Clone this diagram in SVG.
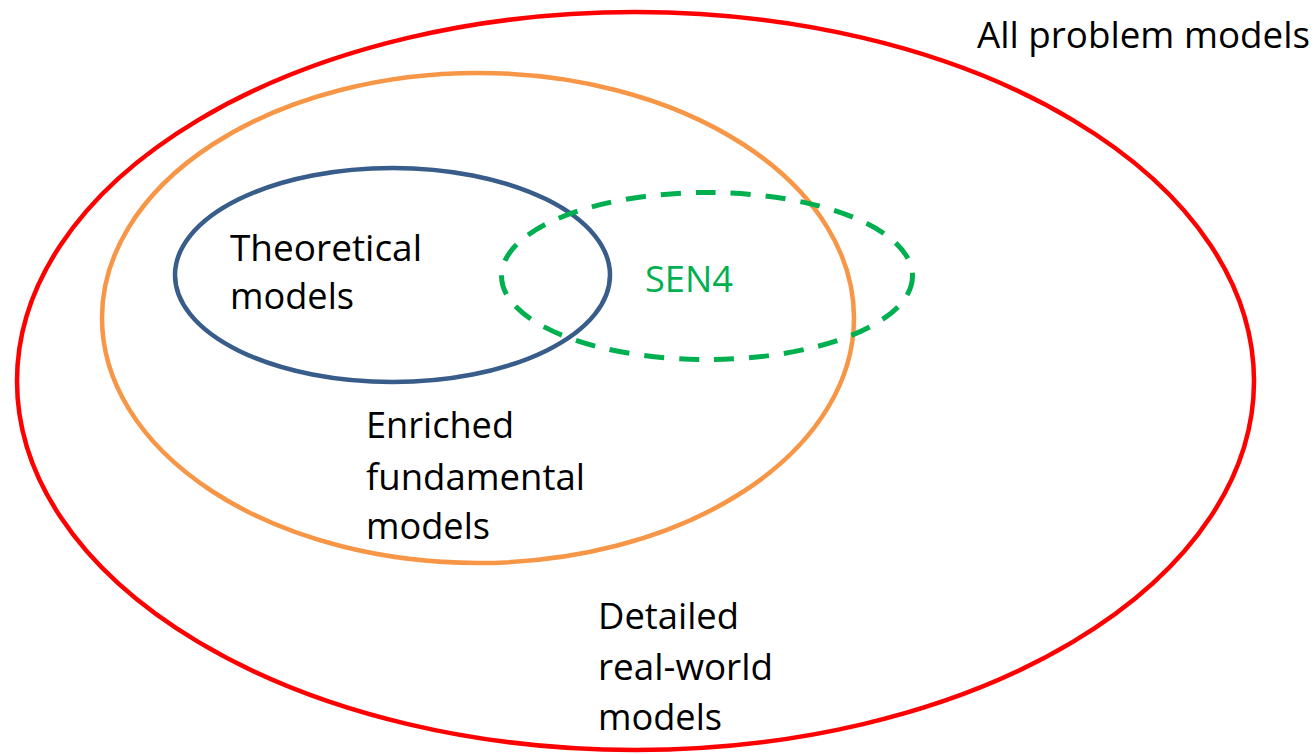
<svg xmlns="http://www.w3.org/2000/svg" width="1316" height="754" viewBox="0 0 1316 754">
  <style>
    .set { fill: none; }
    .lbl { font-family: "Open Sans", "Liberation Sans", Arial, sans-serif; font-size: 37px; fill: #000000; }
  </style>
  <rect width="1316" height="754" fill="#ffffff"/>

  <g id="all-problem-models">
    <ellipse class="set" cx="635.5" cy="381" rx="618.5" ry="369" stroke="#FF0000" stroke-width="4.5"/>
    <text class="lbl" x="977" y="48" textLength="333" lengthAdjust="spacingAndGlyphs">All problem models</text>
    <text class="lbl" x="598" y="629" textLength="141" lengthAdjust="spacingAndGlyphs">Detailed</text>
    <text class="lbl" x="598" y="680" textLength="175" lengthAdjust="spacingAndGlyphs">real-world</text>
    <text class="lbl" x="598" y="730" textLength="124" lengthAdjust="spacingAndGlyphs">models</text>
  </g>

  <g id="enriched-fundamental-models">
    <ellipse class="set" cx="478" cy="318" rx="376" ry="245" stroke="#F79646" stroke-width="4.5"/>
    <text class="lbl" x="366" y="438" textLength="148" lengthAdjust="spacingAndGlyphs">Enriched</text>
    <text class="lbl" x="366" y="490" textLength="219" lengthAdjust="spacingAndGlyphs">fundamental</text>
    <text class="lbl" x="366" y="539" textLength="124" lengthAdjust="spacingAndGlyphs">models</text>
  </g>

  <g id="theoretical-models">
    <ellipse class="set" cx="392.5" cy="275" rx="217.5" ry="107" stroke="#385D8A" stroke-width="4.5"/>
    <text class="lbl" x="230" y="261" textLength="192" lengthAdjust="spacingAndGlyphs">Theoretical</text>
    <text class="lbl" x="230" y="309" textLength="124" lengthAdjust="spacingAndGlyphs">models</text>
  </g>

  <g id="sen4">
    <ellipse class="set" cx="707" cy="276" rx="205.5" ry="83.5" stroke="#00B050" stroke-width="5" stroke-dasharray="20 15"/>
    <text class="lbl" x="645" y="292" textLength="88" lengthAdjust="spacingAndGlyphs" style="fill:#00B050">SEN4</text>
  </g>

  <g id="connectors"/>
</svg>
